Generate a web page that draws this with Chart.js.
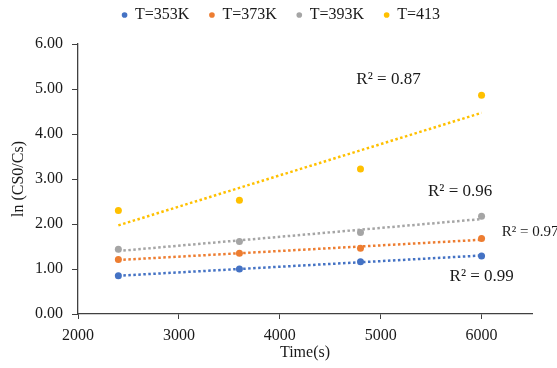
<!DOCTYPE html>
<html>
<head>
<meta charset="utf-8">
<script src="https://cdn.jsdelivr.net/npm/chart.js@4.4.0/dist/chart.umd.min.js"></script>
<style>
  html, body { margin: 0; padding: 0; background: #fff; }
  #wrap { width: 557px; height: 368px; }
</style>
</head>
<body>
<div id="wrap"><canvas id="chart" width="557" height="368"></canvas></div>
<script>
// 測定データ ---------------
const timeValues = [2400, 3600, 4800, 6000];
const lnT353 = [0.85, 1.00, 1.16, 1.29];
const lnT373 = [1.21, 1.35, 1.46, 1.68];
const lnT393 = [1.44, 1.61, 1.81, 2.17];
const lnT413 = [2.30, 2.53, 3.22, 4.86];

// 近似直線の両端
const trendTimes = [2400, 6000];
const trendT353 = [0.85, 1.30];
const trendT373 = [1.20, 1.65];
const trendT393 = [1.40, 2.11];
const trendT413 = [1.97, 4.47];

const seriesNames = ["T=353K", "T=373K", "T=393K", "T=413"];
const r2Texts = ["R² = 0.99", "R² = 0.97", "R² = 0.96", "R² = 0.87"];
const xTickValues = [2000, 3000, 4000, 5000, 6000];
const yTickValues = [0, 1, 2, 3, 4, 5, 6];

const colors = ["#4472C4", "#ED7D31", "#A5A5A5", "#FFC000"];
const serif = "'Liberation Serif', 'Times New Roman', serif";

// R²ラベルの置き場所（データ座標）
const r2Places = [
  { x: 5683, y: 0.83, size: 17 },
  { x: 6201, y: 1.83, size: 15 },
  { x: 5469, y: 2.73, size: 17 },
  { x: 4759, y: 5.21, size: 17 }
];

const toPoints = (xs, ys) => xs.map((x, i) => ({ x: x, y: ys[i] }));

const pointSets = [lnT353, lnT373, lnT393, lnT413];
const trendSets = [trendT353, trendT373, trendT393, trendT413];

const datasets = [];
pointSets.forEach((ys, i) => {
  datasets.push({
    label: seriesNames[i],
    data: toPoints(timeValues, ys),
    backgroundColor: colors[i],
    borderColor: colors[i],
    pointRadius: 3.5,
    pointBorderWidth: 0,
    showLine: false,
    order: 0
  });
});
trendSets.forEach((ys, i) => {
  datasets.push({
    label: "trend" + i,
    data: toPoints(trendTimes, ys),
    borderColor: colors[i],
    borderWidth: 2.5,
    borderDash: [2.5, 2.5],
    pointRadius: 0,
    showLine: true,
    fill: false,
    order: 1
  });
});

// R²の文字を描くプラグイン
const r2Plugin = {
  id: "r2Labels",
  afterDatasetsDraw(chart) {
    const { ctx, scales } = chart;
    ctx.save();
    ctx.fillStyle = "#1a1a1a";
    ctx.textAlign = "left";
    ctx.textBaseline = "middle";
    r2Places.forEach((p, i) => {
      ctx.font = p.size + "px " + serif;
      ctx.fillText(r2Texts[i], scales.x.getPixelForValue(p.x), scales.y.getPixelForValue(p.y));
    });
    ctx.restore();
  }
};

new Chart(document.getElementById("chart").getContext("2d"), {
  type: "scatter",
  data: { datasets: datasets },
  plugins: [r2Plugin],
  options: {
    responsive: false,
    animation: false,
    layout: { padding: { left: 30, right: 25, top: -13, bottom: 0 } },
    plugins: {
      tooltip: { enabled: false },
      // 凡例とグラフの間の余白
      title: {
        display: true,
        text: "",
        weight: 500,
        padding: { top: 0, bottom: -1 },
        font: { size: 10 }
      },
      legend: {
        position: "top",
        labels: {
          filter: item => item.datasetIndex < 4,
          usePointStyle: true,
          pointStyle: "circle",
          boxWidth: 5,
          boxHeight: 4,
          padding: 20,
          color: "#1a1a1a",
          font: { family: serif, size: 16 }
        }
      }
    },
    scales: {
      x: {
        type: "linear",
        min: 2000,
        max: 6500,
        afterBuildTicks: s => { s.ticks = xTickValues.map(v => ({ value: v })); },
        afterFit: s => { s.height = 54; },
        border: { display: true, color: "#404040", width: 1.3 },
        grid: { drawOnChartArea: false, drawTicks: true, tickLength: 5, color: "#404040" },
        ticks: {
          color: "#1a1a1a",
          padding: 7,
          font: { family: serif, size: 16 },
          callback: v => String(v)
        },
        title: {
          display: true,
          text: "Time(s)",
          color: "#1a1a1a",
          padding: { top: 0, bottom: 6 },
          font: { family: serif, size: 16 }
        }
      },
      y: {
        type: "linear",
        min: 0,
        max: 6,
        afterBuildTicks: s => { s.ticks = yTickValues.map(v => ({ value: v })); },
        afterFit: s => { s.width = 48; },
        border: { display: true, color: "#404040", width: 1.3 },
        grid: { drawOnChartArea: false, drawTicks: true, tickLength: 6, color: "#404040" },
        ticks: {
          color: "#1a1a1a",
          padding: 9,
          font: { family: serif, size: 16 },
          callback: v => Number(v).toFixed(2)
        },
        title: {
          display: true,
          text: "ln (CS0/Cs)",
          color: "#1a1a1a",
          padding: { top: -21, bottom: 0 },
          font: { family: serif, size: 16 }
        }
      }
    }
  }
});
</script>
</body>
</html>
